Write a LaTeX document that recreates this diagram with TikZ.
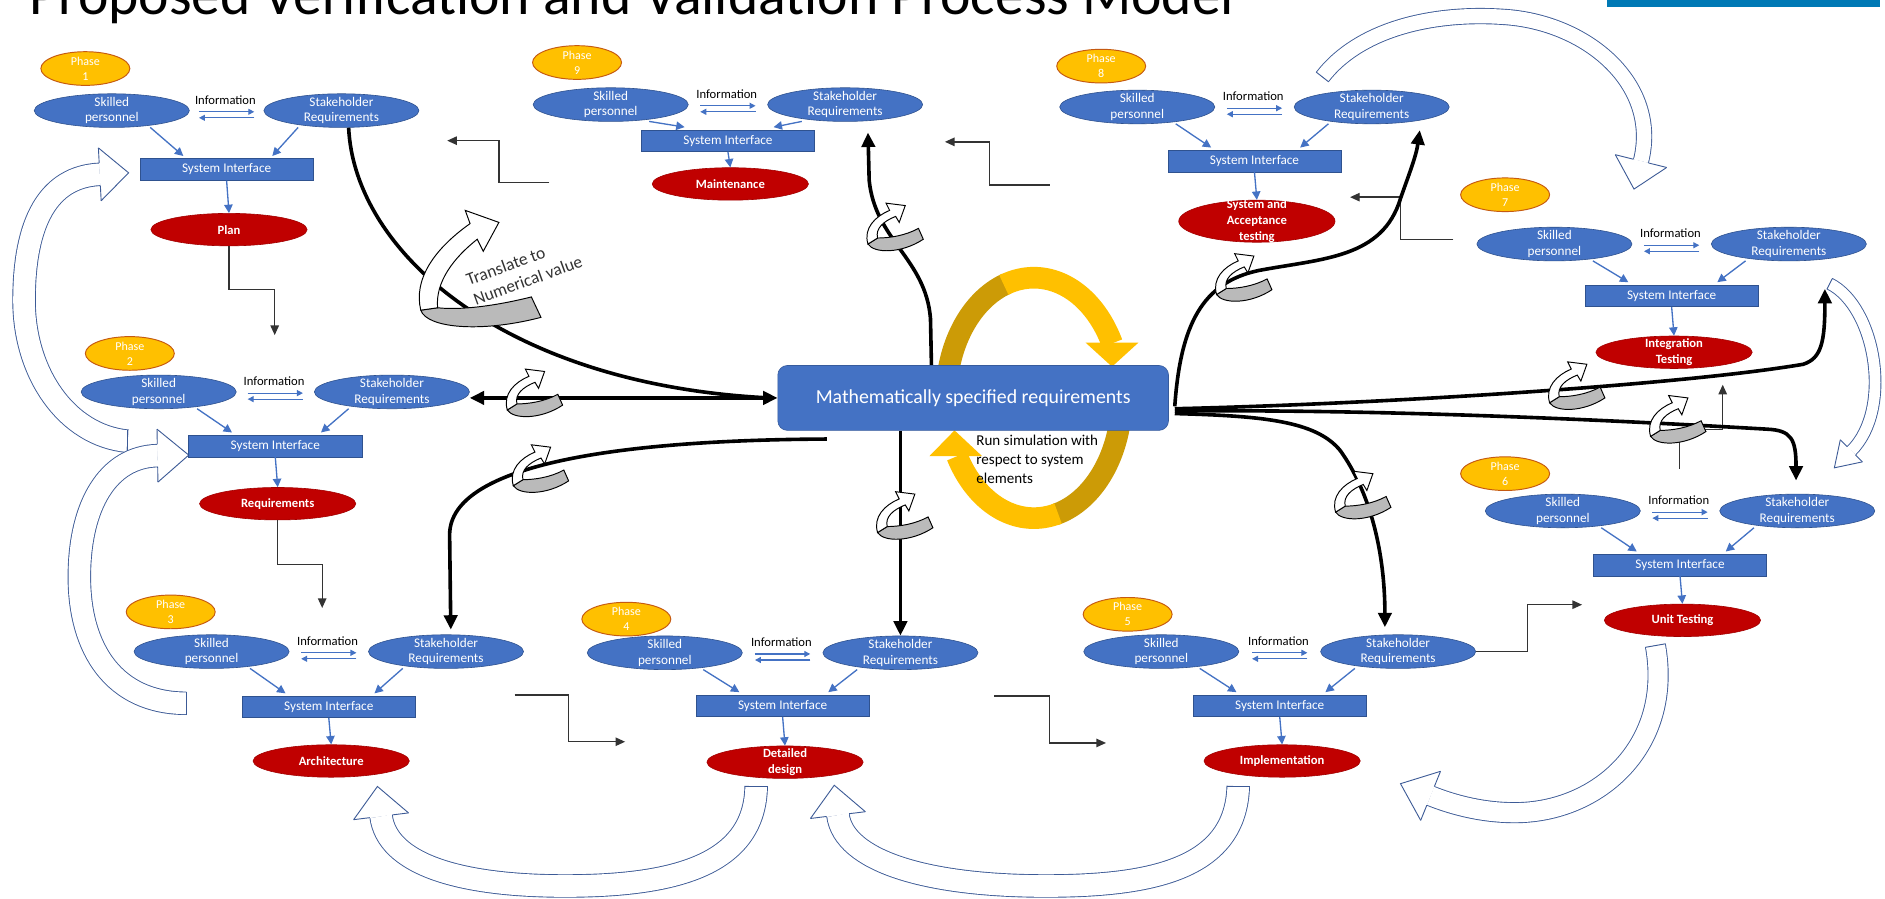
\documentclass[tikz,border=0pt]{standalone}
\usepackage{fontspec}
\setmainfont{Carlito}
\usetikzlibrary{shapes.geometric,arrows.meta,calc}
\definecolor{eblue}{HTML}{4472C4}
\definecolor{eblueD}{HTML}{2F528F}
\definecolor{ered}{HTML}{C00000}
\definecolor{pgold}{HTML}{FFC000}
\definecolor{porange}{HTML}{C55A11}
\definecolor{holc}{HTML}{3C5A96}
\definecolor{goldL}{HTML}{FFC000}
\definecolor{goldD}{HTML}{CC9B06}
\definecolor{barblue}{HTML}{0079B5}
\tikzset{
 be/.style={ellipse, fill=eblue, draw=eblueD, line width=0.5pt, minimum width=129pt, minimum height=28pt, inner sep=0pt},
 etx/.style={text=white, font=\fontsize{11}{13}\selectfont, align=center, inner sep=0pt},
 phov/.style={ellipse, fill=pgold, draw=porange, line width=0.8pt, minimum width=74pt, minimum height=28pt, inner sep=0pt},
 phtx/.style={text=white, font=\fontsize{10}{12.5}\selectfont, align=center, inner sep=0pt},
 re/.style={ellipse, fill=ered, draw=ered!85!black, line width=0.5pt, minimum width=130pt, minimum height=27pt, inner sep=0pt},
 rtx/.style={text=white, font=\bfseries\fontsize{10.5}{13}\selectfont, align=center, inner sep=0pt},
 si/.style={rectangle, fill=eblue, draw=eblueD, line width=0.5pt, minimum width=144pt, minimum height=18pt, inner sep=0pt, text=white, font=\fontsize{11}{13}\selectfont},
 infot/.style={font=\fontsize{10.5}{12}\selectfont, inner sep=0pt},
 barr/.style={draw=eblue, line width=1.1pt, -{Triangle[length=7pt,width=7pt]}},
 iarr/.style={draw=eblue, line width=1pt, -{Triangle[length=5pt,width=5pt]}},
 thk/.style={line width=3pt, draw=black},
 bigtip/.style={-{Triangle[length=12pt,width=11pt]}},
 bothtip/.style={{Triangle[length=12pt,width=11pt]}-{Triangle[length=12pt,width=11pt]}},
 elb/.style={draw=black!80, line width=1.1pt, -{Triangle[length=8pt,width=7pt]}},
 hol/.style={draw=holc, line width=0.75pt},
 tube/.style={draw=holc, line width=0.75pt, double=white, double distance=#1},
 reextra/.style={},
}
% phase block: #1 id, #2 SP x, #3 y, #4 SR x, #5 SI y, #6 out y, #7 out text, #8 oval x, #9 oval y
\newcommand\phaseblk[9]{%
 \node[phov, label={[phtx]center:{Phase\\#1}}] (ph#1) at (#8,#9) {};
 \node[be, label={[etx]center:{Skilled\\personnel}}] (sp#1) at (#2,#3) {};
 \node[be, label={[etx]center:{Stakeholder\\Requirements}}] (sr#1) at (#4,#3) {};
 \coordinate (m#1) at ({(#2+#4)/2},#3);
 \node[infot] (in#1) at ({(#2+#4)/2-1},{#3-9}) {Information};
 \coordinate (ia#1) at ({(#2+#4)/2-23},{#3+1});
 \coordinate (ib#1) at ({(#2+#4)/2+23},{#3+1});
 \coordinate (ic#1) at ({(#2+#4)/2+23},{#3+6});
 \coordinate (id#1) at ({(#2+#4)/2-23},{#3+6});
 \draw[iarr] (ia#1) -- (ib#1);
 \draw[iarr] (ic#1) -- (id#1);
 \node[si] (si#1) at ({(#2+#4)/2},#5) {System Interface};
 \node[re, reextra, label={[rtx]center:{#7}}] (out#1) at ({(#2+#4)/2+2},#6) {};
 \draw[barr] ($(sp#1)+(32,14)$) -- ($(si#1.north)+(-36,-2)$);
 \draw[barr] ($(sr#1)+(-36,14)$) -- ($(si#1.north)+(38,-2)$);
 \draw[barr] (si#1.south) -- (out#1.north);
}
\newcommand\rotico[3]{%
 \begin{scope}[shift={(#1,#2)}, scale=#3]
 \filldraw[fill=black!27, draw=black, line width=0.8pt] (-23,13) .. controls (-18,21) and (5,21) .. (23,9) -- (19,0) .. controls (8,6) and (-5,8) .. (-15,8) -- cycle;
 \filldraw[fill=white, draw=black, line width=0.8pt] (-23,13) .. controls (-27,0) and (-17,-10) .. (-5,-15) -- (-8,-21) -- (8,-19) -- (3,-5) -- (0,-10) .. controls (-10,-6) and (-17,0) .. (-15,8) -- cycle;
 \end{scope}}
\newcommand\hollowhead[5]{%
 \fill[white] ($#1+(#2+90:#3)$) -- ($#1+(#2:#4)$) -- ($#1+(#2-90:#3)$) -- cycle;
 \draw[hol, line join=miter] ($#1+(#2+90:#3)$) -- ($#1+(#2:#4)$) -- ($#1+(#2-90:#3)$);
 \draw[hol] ($#1+(#2+90:#3)$) -- ($#1+(#2+90:#5)$);
 \draw[hol] ($#1+(#2-90:#3)$) -- ($#1+(#2-90:#5)$);}
\newcommand\hollowtail[3]{\draw[hol] ($#1+(#2+90:#3)$) -- ($#1+(#2-90:#3)$);}
\begin{document}
\begin{tikzpicture}[x=1pt,y=-1pt]
\useasboundingbox (0,0) rectangle (1568,747);
\fill[white] (0,0) rectangle (1568,747);
% title and bar
\node[anchor=base west, inner sep=0pt, font=\fontsize{48}{50}\selectfont] (title) at (24,12) {Proposed Verification and Validation Process Model};
\fill[barblue] (1337,0) rectangle (1564,6);

% hollow arrows
\draw[tube=18pt] (106,367) .. controls (55,362) and (20,310) .. (20,250) .. controls (20,185) and (40,147) .. (83,145);
\hollowhead{(83,145)}{-3}{22}{24}{9.4}
\hollowtail{(106,367)}{0}{9.6}
\draw[tube=18pt] (155,585) .. controls (95,585) and (66,540) .. (66,480) .. controls (66,420) and (90,380) .. (131,379);
\hollowhead{(131,379)}{-1}{22}{26}{9.4}
\hollowtail{(155,585)}{0}{9.6}
\draw[tube=18pt] (629,654) .. controls (628,720) and (560,737) .. (470,737) .. controls (380,737) and (322,718) .. (317,679);
\hollowhead{(317,679)}{-97}{23}{25}{9.4}
\hollowtail{(629,654)}{90}{9.6}
\draw[tube=18pt] (1030,654) .. controls (1028,722) and (960,737) .. (870,737) .. controls (770,737) and (702,716) .. (697,678);
\hollowhead{(697,678)}{-97}{23}{25}{9.4}
\hollowtail{(1030,654)}{90}{9.6}
\draw[tube=16pt] (1377,537) .. controls (1392,620) and (1330,676) .. (1260,676) .. controls (1230,676) and (1205,668) .. (1190,662);
\hollowhead{(1190,662)}{-158}{22}{27}{8.4}
\hollowtail{(1377,537)}{80}{8.6}
\draw[tube=9pt] (1522,236) .. controls (1560,255) and (1575,340) .. (1540,375);
\hollowhead{(1540,375)}{135}{13}{20}{4.9}
\hollowtail{(1522,236)}{27}{5.1}
\draw[tube=12pt] (1100,64) .. controls (1130,25) and (1190,10) .. (1250,14) .. controls (1320,18) and (1381,70) .. (1365,134);
\hollowhead{(1365,134)}{104}{22}{24}{6.4}
\hollowtail{(1100,64)}{-52}{6.6}

% phase blocks
\phaseblk{1}{93}{92}{284}{141}{191}{Plan}{71}{57}
\phaseblk{2}{132}{326}{326}{371}{419}{Requirements}{108}{294}
\phaseblk{3}{176}{542}{371}{588}{633}{Architecture}{142}{509}
\phaseblk{4}{553}{543}{749}{587}{634}{Detailed\\design}{521}{515}
\phaseblk{5}{966}{542}{1163}{587}{633}{Implementation}{938}{511}
\phaseblk{6}{1300}{425}{1495}{470}{516}{Unit Testing}{1252}{394}
\phaseblk{7}{1293}{203}{1488}{246}{293}{Integration\\Testing}{1252}{162}
\tikzset{reextra/.style={minimum height=35pt}}
\phaseblk{8}{946}{89}{1141}{134}{184}{System and\\Acceptance\\testing}{916}{55}
\tikzset{reextra/.style={}}
\phaseblk{9}{508}{87}{703}{117}{153}{Maintenance}{480}{52}

% central box position
\path (809.5,331) node[minimum width=325pt, minimum height=54pt, inner sep=0pt] (math) {};

% elbow connectors
\draw[elb] (out1.south) -- ++(0,36) -| ++(38,38);
\draw[elb] (out2.south) -- ++(0,37) -| ++(37,36);
\coordinate (e3a) at (428,578); \coordinate (e3b) at (520,617);
\draw[elb] (e3a) -- ++(45,0) |- (e3b);
\coordinate (e4a) at (827,579); \coordinate (e4b) at (920,618);
\draw[elb] (e4a) -- ++(46,0) |- (e4b);
\coordinate (e5b) at (1316,503);
\draw[elb] (sr5.east) -- ++(43,0) |- (e5b);
\coordinate (e6a) at (1397,390); \coordinate (e6b) at (1433,320);
\draw[elb] (e6a) -- ++(0,-33) -| (e6b);
\coordinate (e7a) at (1209,199); \coordinate (e7b) at (1123,164);
\draw[elb] (e7a) -- ++(-44,0) |- (e7b);
\coordinate (e8a) at (873,154); \coordinate (e8b) at (786,118);
\draw[elb] (e8a) -- ++(-50,0) |- (e8b);
\coordinate (e9a) at (457,152); \coordinate (e9b) at (372,117);
\draw[elb] (e9a) -- ++(-42,0) |- (e9b);

% thick connectors
\draw[thk] ($(sr1.south)+(6,0)$) .. controls (295,210) and (420,320) .. ($(math.west)+(-7,0)$);
\draw[thk, bothtip] (sr2.east |- math.west) -- (math.west);
\draw[thk, bigtip] ($(math.south west)+(41,7)$) .. controls (520,366) and (374,385) .. (374,445) -- ($(sr3.north)+(4,-4)$);
\draw[thk, bigtip] (math.south -| sr4.north) -- (sr4.north);
\draw[thk, bigtip] ($(math.north west)+(128,0)$) -- (774,265) .. controls (770,215) and (728,200) .. (723,150) -- ($(sr9.south)+(19,9)$);
\draw[thk, bigtip] ($(math.east)+(5,7)$) .. controls (982,270) and (1000,235) .. (1047,225) .. controls (1100,215) and (1150,215) .. (1165,165) .. controls (1172,145) and (1178,130) .. ($(sr8.south)+(40,5)$);
\draw[thk, bigtip] ($(math.east)+(5,9)$) .. controls (1150,336) and (1400,320) .. (1500,303) .. controls (1515,298) and (1518,285) .. ($(sr7.south)+(30,23)$);
\draw[thk, bigtip] ($(math.east)+(5,11)$) .. controls (1150,340) and (1350,350) .. (1470,357) .. controls (1490,358) and (1494,365) .. ($(sr6.north)+(-1,-11)$);
\draw[thk, bigtip] ($(math.east)+(5,13)$) .. controls (1050,346) and (1095,350) .. (1115,375) .. controls (1140,410) and (1152,460) .. ($(sr5.north)+(-11,-6)$);

% large rotation icon with its text
\filldraw[fill=black!27, draw=black, line width=0.8pt] (350,258) .. controls (355,273) and (400,277) .. (450,264) -- (442,247) .. controls (410,255) and (382,258) .. (364,256) -- cycle;
\filldraw[fill=white, draw=black, line width=0.8pt] (350,258) .. controls (344,233) and (360,208) .. (391,186) -- (387,175) -- (415,185) -- (402,209) -- (397,199) .. controls (378,214) and (362,234) .. (364,256) -- cycle;
\node[rotate=20, align=left, inner sep=0pt, text=black!80, font=\fontsize{14.5}{17.5}\selectfont] (transl) at (436,225) {Translate to\\Numerical value};

% small rotation icons
\rotico{445}{328}{1}
\rotico{450}{391}{1}
\rotico{753}{430}{1}
\rotico{745}{190}{1}
\rotico{1035}{232}{1}
\rotico{1312}{322}{1}
\rotico{1396}{350}{1}
\rotico{1134}{413}{1}

% gold loop
\draw[goldD, line width=18pt] plot[domain=190:252, samples=40] ({860+73*cos(\x)},{331+100*sin(\x)});
\draw[goldL, line width=18pt] plot[domain=250:333, samples=40] ({860+73*cos(\x)},{331+100*sin(\x)});
\fill[goldL] (903,285) -- (947,285) -- (925,305) -- cycle;
\draw[goldD, line width=18pt] plot[domain=8:76, samples=40] ({860+73*cos(\x)},{331+100*sin(\x)});
\draw[goldL, line width=18pt] plot[domain=74:151, samples=40] ({860+73*cos(\x)},{331+100*sin(\x)});
\fill[goldL] (773,379.5) -- (817,379.5) -- (794,358) -- cycle;

% central box
\node[rectangle, rounded corners=8pt, fill=eblue, draw=eblue!80!black, line width=0.5pt, minimum width=325pt, minimum height=54pt, inner sep=0pt, text=white, font=\fontsize{16.5}{19}\selectfont] (mathbox) at (math) {Mathematically specified requirements};
\node[anchor=north west, align=left, inner sep=0pt, font=\fontsize{12.5}{15.5}\selectfont] (runsim) at (812,362) {Run simulation with\\respect to system\\elements};
\end{tikzpicture}
\end{document}
